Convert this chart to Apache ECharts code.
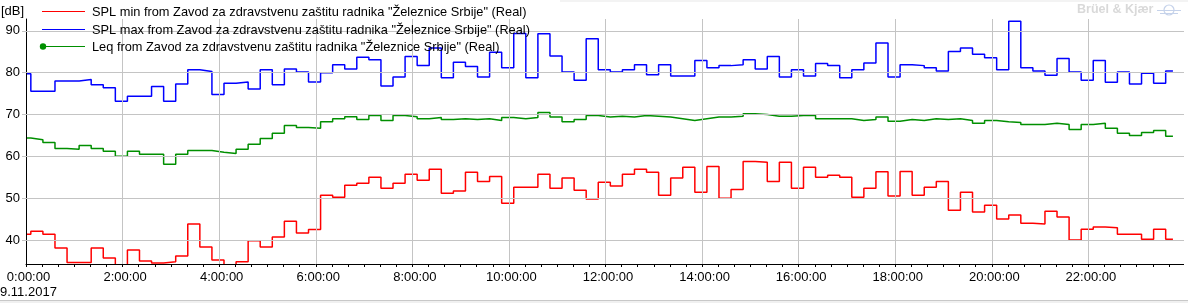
<!DOCTYPE html>
<html>
<head>
<meta charset="utf-8">
<script src="https://cdn.jsdelivr.net/npm/echarts@6/dist/echarts.min.js"></script>
<style>
html,body{margin:0;padding:0;background:#fff;}
#c{width:1188px;height:303px;}
</style>
</head>
<body>
<div id="c"></div>
<script>
// Series names (legend)
const seriesNames = [
  'SPL min from Zavod za zdravstvenu zaštitu radnika "Železnice Srbije" (Real)',
  'SPL max from Zavod za zdravstvenu zaštitu radnika "Železnice Srbije" (Real)',
  'Leq from Zavod za zdravstvenu zaštitu radnika "Železnice Srbije" (Real)'
];
// Interval start times in minutes from 0:00 (first partial interval at 0:00, then 15-min intervals from 0:06)
const intervalStarts = [0];
for (let k = 1; k <= 95; k++) intervalStarts.push(6 + 15 * (k - 1));
const endTime = 1425; // 23:45:00
// Values (dB)
const splMin = [41.4,42.1,41.4,38.1,34.6,34.6,38.1,35.7,33.0,37.6,35.0,34.5,34.8,36.2,43.8,38.3,35.2,33.0,34.8,39.8,38.3,40.7,44.5,41.7,42.5,50.7,50.2,53.1,53.6,55.0,52.4,53.6,55.7,54.3,56.9,51.2,51.7,56.2,54.0,55.2,48.8,52.6,52.6,55.7,52.4,54.8,51.9,49.8,53.8,52.9,55.7,56.9,56.2,50.7,54.8,57.4,51.4,57.6,50.0,52.1,58.8,58.6,54.0,58.6,52.4,57.4,55.0,55.5,55.0,50.2,52.4,56.3,50.5,56.4,50.7,52.6,54.0,47.1,51.4,46.7,48.3,45.0,46.0,44.0,43.8,46.9,45.5,40.0,42.6,43.1,42.9,41.4,41.4,40.2,42.6,40.2];
const splMax = [79.75,75.6,75.6,78.0,78.0,78.4,77.1,76.4,73.2,74.4,74.4,76.7,73.2,77.3,80.7,80.3,74.8,77.5,77.8,76.1,80.7,77.1,80.9,80.2,77.8,80.0,81.9,80.9,83.7,83.1,76.8,79.0,83.9,81.7,85.9,78.8,82.5,81.5,79.0,84.9,81.2,89.4,78.8,89.3,84.0,80.2,78.2,88.1,80.7,80.2,80.7,81.9,79.5,81.9,79.2,79.2,82.9,81.2,81.7,81.9,83.1,80.9,83.9,79.0,80.7,79.2,82.2,81.7,78.8,80.7,82.3,87.1,79.0,81.9,81.7,81.2,80.4,85.1,85.9,84.4,83.6,80.7,92.3,81.2,80.4,79.4,83.4,80.2,78.2,82.9,77.7,80.2,77.3,79.9,77.5,80.4];
const leq = [64.4,64.0,63.3,61.9,61.7,62.6,61.9,61.2,60.0,61.2,60.5,60.5,58.1,60.5,61.4,61.4,61.0,60.7,61.7,62.9,64.3,65.5,67.4,66.9,66.7,68.3,69.0,69.5,68.8,69.8,68.6,69.8,69.5,69.0,69.3,68.8,69.0,68.8,69.0,68.6,69.3,69.0,69.3,70.5,69.4,68.3,68.8,69.8,69.4,69.6,69.4,69.8,69.6,69.4,69.0,68.6,69.0,69.4,69.4,69.6,70.2,70.0,69.6,69.6,69.8,69.8,69.0,69.0,69.0,68.6,68.8,69.4,68.4,68.8,68.6,69.0,68.8,69.0,68.6,67.9,68.6,68.3,68.1,67.6,67.6,67.9,67.6,66.4,67.6,67.9,66.7,65.5,65.0,65.7,66.2,64.8];
// Axis ticks
const yTicks = [40,50,60,70,80,90];
const xGridTimes = [120,240,360,480,600,720,840,960,1080,1200,1320];
const dateLabel = '9.11.2017';
const colors = ['#ff0000','#0000ff','#008f00'];

function toPairs(vals){
  const d = vals.map((v,i)=>[intervalStarts[i], v]);
  d.push([endTime, vals[vals.length-1]]);
  return d;
}
function fmtTime(v){
  if (v % 120 !== 0 || v >= 1440) return '';
  return (v/60) + ':00:00';
}
const FONT = 'Liberation Sans';
const LFONT = '12.8px "' + FONT + '"';

const chart = echarts.init(document.getElementById('c'), null, {renderer:'canvas'});
const gridLines = yTicks.map(v=>({yAxis:v})).concat(xGridTimes.map(t=>({xAxis:t})));

chart.setOption({
  animation:false,
  backgroundColor:'#ffffff',
  grid:{left:26, right:-7.5, top:19, bottom:39, containLabel:false},
  xAxis:{
    type:'value', min:0, max:1440, interval:120, z:3,
    axisLine:{lineStyle:{color:'#000', width:1}},
    axisTick:{show:true, length:3, lineStyle:{color:'#000'}},
    minorTick:{show:true, splitNumber:6, length:3, lineStyle:{color:'#000'}},
    splitLine:{show:false},
    axisLabel:{formatter:fmtTime, color:'#000', fontFamily:FONT, fontSize:13, margin:7, padding:[0,0,0,5]}
  },
  yAxis:{
    type:'value', min:34.26, max:92.85, z:3,
    axisLine:{show:true, lineStyle:{color:'#000', width:1}},
    axisTick:{show:true, length:4, lineStyle:{color:'#c4c4c4'}, customValues:yTicks},
    splitLine:{show:false},
    axisLabel:{customValues:yTicks, formatter:v=>(yTicks.indexOf(Math.round(v*100)/100)>=0? String(v):''), color:'#000', fontFamily:FONT, fontSize:13, margin:6}
  },
  series:[
    {type:'line', name:'grid', data:[], z:1, silent:true,
     markLine:{silent:true, symbol:['none','none'], label:{show:false},
       lineStyle:{color:'#c4c4c4', type:'solid', width:1}, emphasis:{disabled:true}, animation:false,
       data:gridLines}},
    {type:'line', name:seriesNames[0], data:toPairs(splMin), step:'end', symbol:'none', z:2,
     lineStyle:{color:colors[0], width:1.5}, itemStyle:{color:colors[0]}},
    {type:'line', name:seriesNames[1], data:toPairs(splMax), step:'end', symbol:'none', z:2,
     lineStyle:{color:colors[1], width:1.5}, itemStyle:{color:colors[1]}},
    {type:'line', name:seriesNames[2], data:toPairs(leq), step:'end', symbol:'none', z:2,
     lineStyle:{color:colors[2], width:1.5}, itemStyle:{color:colors[2]}}
  ],
  graphic:[
    // right-edge white cover (plot ends at 23:45)
    {type:'rect', z:100, shape:{x:1184, y:14, width:10, height:258}, style:{fill:'#fff'}},
    // top strip and bottom border
    {type:'rect', z:100, shape:{x:560, y:0, width:628, height:2}, style:{fill:'#f3f3f3'}},
    {type:'rect', z:100, shape:{x:0, y:300, width:1188, height:3}, style:{fill:'#f0f0f0'}},
    {type:'line', z:101, shape:{x1:0, y1:300.5, x2:1188, y2:300.5}, style:{stroke:'#c8c8c8', lineWidth:1}},
    // unit label
    {type:'text', z:100, left:1, top:5, style:{text:'[dB]', font:'13px "'+FONT+'"', fill:'#000'}},
    // date label
    {type:'text', z:100, left:0, top:286, style:{text:dateLabel, font:'13px "'+FONT+'"', fill:'#000'}},
    // legend
    {type:'line', z:100, shape:{x1:42, y1:11.5, x2:85, y2:11.5}, style:{stroke:colors[0], lineWidth:1}},
    {type:'line', z:100, shape:{x1:42, y1:29.5, x2:85, y2:29.5}, style:{stroke:colors[1], lineWidth:1}},
    {type:'line', z:100, shape:{x1:42, y1:46.5, x2:85, y2:46.5}, style:{stroke:colors[2], lineWidth:1}},
    {type:'circle', z:100, shape:{cx:43, cy:46.5, r:3.2}, style:{fill:colors[2]}},
    {type:'text', z:100, x:92, y:12, style:{text:seriesNames[0], font:LFONT, fill:'#000', verticalAlign:'middle'}},
    {type:'text', z:100, x:92, y:30, style:{text:seriesNames[1], font:LFONT, fill:'#000', verticalAlign:'middle'}},
    {type:'text', z:100, x:92, y:47, style:{text:seriesNames[2], font:LFONT, fill:'#000', verticalAlign:'middle'}},
    // watermark
    {type:'text', z:100, x:1077, y:10, style:{text:'Brüel & Kjær', font:'bold 12.5px "'+FONT+'"', fill:'#d9d9d9', verticalAlign:'middle'}},
    {type:'circle', z:100, shape:{cx:1169, cy:10, r:5}, style:{fill:'none', stroke:'#c5d2ea', lineWidth:1.2}},
    {type:'line', z:100, shape:{x1:1157, y1:10.5, x2:1181, y2:10.5}, style:{stroke:'#c5d2ea', lineWidth:1}},
    {type:'line', z:100, shape:{x1:1160, y1:13.5, x2:1178, y2:13.5}, style:{stroke:'#c5d2ea', lineWidth:1}}
  ]
});
</script>
</body>
</html>
